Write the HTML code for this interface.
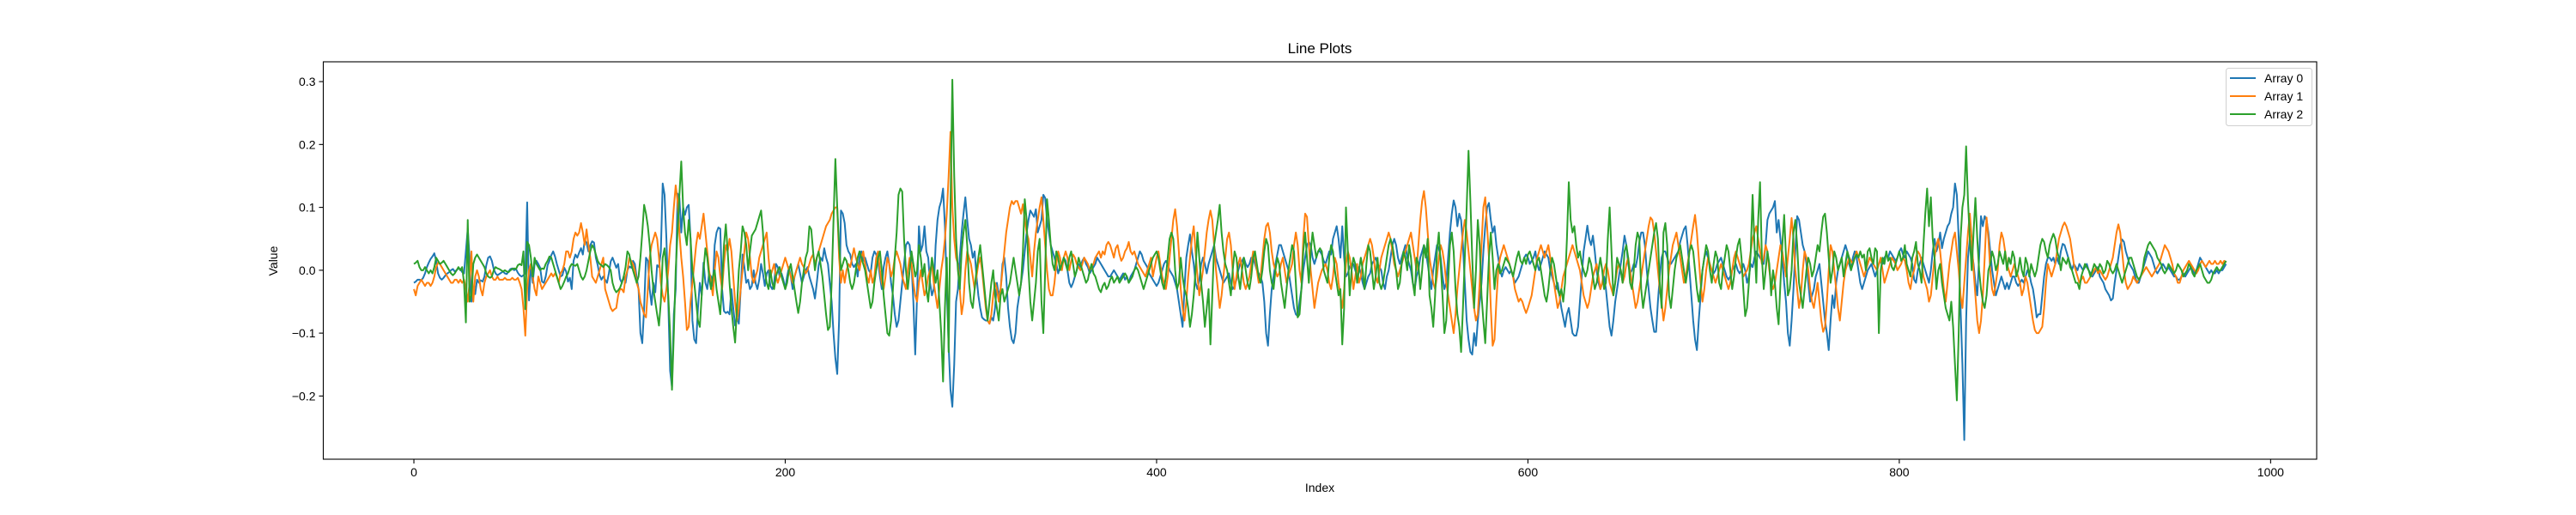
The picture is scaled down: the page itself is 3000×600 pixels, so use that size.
<!DOCTYPE html>
<html><head><meta charset="utf-8"><title>Line Plots</title>
<style>html,body{margin:0;padding:0;background:#fff;}svg{display:block;font-family:"Liberation Sans","DejaVu Sans",sans-serif;}</style>
</head><body>
<svg id="chart" width="3000" height="600" viewBox="0 0 3000 600" xmlns="http://www.w3.org/2000/svg">
<rect x="0" y="0" width="3000" height="600" fill="#fff"/>
<text x="1537" y="62" text-anchor="middle" font-size="17" fill="#000">Line Plots</text>
<g id="plot"></g>
<text x="1537" y="573" text-anchor="middle" font-size="14" fill="#000">Index</text>
<text x="0" y="0" transform="translate(323,304) rotate(-90)" text-anchor="middle" font-size="14" fill="#000">Value</text>
</svg>
<script>
const seriesNames = ["Array 0","Array 1","Array 2"];
const seriesColors = ["#1f77b4","#ff7f0e","#2ca02c"];
const xTicks = [0,200,400,600,800,1000];
const yTicks = [-0.2,-0.1,0.0,0.1,0.2,0.3];
const yTickLabels = ["\u22120.2","\u22120.1","0.0","0.1","0.2","0.3"];
const array0 = [
-.02,-.018,-.015,-.015,-.016,-.012,-.005,.005,.012,.018,.022,.027,.015,-.005,-.012,-.015,-.012,-.008,-.005,-.003,0,.002,-.002,0,.003,
.002,-.003,-.005,.03,.066,.02,-.05,-.035,-.038,-.015,-.02,-.016,-.018,-.01,.008,.02,.022,.015,.002,-.005,-.008,-.006,-.004,-.002,-.005,
-.006,-.002,.002,.003,0,.002,-.004,-.008,-.01,-.008,-.005,.108,-.048,.01,-.02,.01,.015,.01,.004,-.018,-.02,-.01,.008,.015,.024,
.03,.022,.01,0,-.01,-.008,.004,-.002,-.018,-.012,-.03,.015,.025,.02,.028,.035,.025,.048,.044,.03,.04,.046,.044,.02,.008,
-.008,-.015,-.01,-.015,-.02,-.005,.014,.02,.012,.004,.01,-.014,-.02,-.01,-.02,0,.006,.004,.015,.01,-.012,-.03,-.1,-.116,-.06,
.02,.015,-.03,-.055,-.02,-.035,.008,.005,.03,.138,.12,.05,-.05,-.16,-.186,-.07,-.03,.122,.115,.06,.1,.088,.1,.104,.05,
-.08,-.11,-.116,-.06,-.02,-.04,.012,-.02,-.03,-.005,-.01,-.025,.04,.06,.068,.066,-.03,-.065,-.068,-.066,-.07,-.03,-.06,-.088,-.075,
-.085,-.03,.025,.005,-.02,-.015,-.03,-.025,0,-.02,-.03,-.015,.01,-.005,-.025,-.005,0,-.025,-.03,-.02,.01,.005,-.01,-.005,-.015,
-.03,-.01,.005,-.01,-.03,-.01,0,.01,-.005,-.02,-.01,0,.005,-.01,-.02,-.03,-.045,-.02,.008,.02,.015,.035,.02,.01,-.02,
-.05,-.1,-.14,-.165,-.08,.095,.09,.075,.04,.03,.025,.01,.005,.01,-.01,.02,.03,.015,.02,.01,0,-.005,.02,.03,.025,
.015,-.01,-.03,.005,.02,.03,.01,-.02,-.04,-.07,-.09,-.08,-.05,-.02,.01,.04,.045,.04,.01,-.05,-.134,-.04,.07,.03,.04,
.07,.03,.02,-.02,-.04,-.03,.04,.08,.1,.11,.13,.07,-.03,-.12,-.19,-.217,-.15,-.05,-.03,.02,.06,.09,.116,.08,.05,
.04,.02,.03,-.01,-.04,-.06,-.075,-.078,-.08,-.08,-.085,-.075,-.08,-.06,-.02,-.04,-.03,.01,.02,-.01,-.06,-.09,-.11,-.116,-.1,
-.06,-.04,-.02,0,.03,.06,.08,.095,.09,.085,.097,.06,.07,.08,.12,.115,.08,.06,.04,.03,.02,.01,-.005,.005,.01,
.02,.015,0,-.02,-.027,-.02,-.01,0,.01,.005,.015,.02,.01,.005,-.005,0,.005,.01,.02,.015,.01,.005,0,-.005,-.01,
-.01,-.005,0,-.005,-.01,-.015,-.01,-.005,-.015,-.01,-.02,-.01,-.005,0,.01,.02,.03,.025,.015,.01,.005,-.005,-.01,-.015,-.02,
-.025,-.02,-.01,0,.01,.015,.01,0,-.005,-.01,-.02,-.03,-.05,-.07,-.09,-.03,.02,.04,.057,.03,.01,-.02,-.03,-.015,.01,
.02,.01,-.005,.01,.02,.03,.04,.02,.01,0,-.01,-.02,-.015,-.01,-.005,-.02,-.03,-.025,-.015,0,.01,.015,.02,.01,.005,
.01,.02,.02,.01,0,-.005,-.01,-.02,-.05,-.1,-.12,-.07,-.03,-.01,.01,.025,.04,.04,.03,.02,.01,0,-.02,-.04,-.06,
-.07,-.073,-.05,-.03,0,.02,.04,.045,.04,.02,.01,.02,.03,.03,.025,.015,.01,.02,.03,.025,.05,.06,.07,.05,.02,
.07,.02,-.01,-.005,.005,.01,.01,0,-.01,.005,-.005,-.02,-.03,-.02,-.01,-.005,.01,.015,.02,.01,.005,0,-.02,-.03,-.01,
0,.02,.04,.05,.04,.02,.01,.02,.03,.04,.02,.01,0,-.02,-.03,-.01,0,.02,.03,.04,.03,.01,-.01,-.03,0,
.02,.04,.035,.02,-.01,-.03,-.02,.02,.06,.09,.111,.1,.07,.09,.08,.04,-.02,-.08,-.11,-.13,-.134,-.1,-.12,-.08,-.05,
-.02,.03,.07,.1,.107,.08,.06,.07,.04,.02,0,-.01,0,.005,0,-.005,0,-.01,-.02,-.015,-.01,0,.01,.02,.025,
.02,.01,.015,.02,.03,.01,0,.01,.02,.03,.025,.02,0,-.01,-.02,-.03,-.02,-.04,-.06,-.075,-.09,-.07,-.06,-.08,-.1,
-.104,-.104,-.09,-.05,-.01,.03,.05,.071,.05,.04,.055,.03,0,-.02,-.03,-.02,-.01,-.03,-.06,-.09,-.104,-.08,-.05,-.03,-.01,
.01,.03,.055,.04,.01,-.005,0,.01,.005,.02,.045,.06,.06,.04,0,-.03,-.06,-.08,-.098,-.098,-.05,-.01,.02,.03,.03,
.02,.01,.01,.015,.02,.025,.03,.045,.055,.065,.07,.04,0,-.04,-.08,-.11,-.127,-.08,-.04,0,.02,.03,.02,.005,0,
-.005,0,.01,.015,.02,.01,0,-.01,-.015,-.01,0,.005,.01,0,-.005,0,.01,0,-.02,-.01,.01,.005,.02,.03,.025,
.02,.015,.01,.04,.08,.09,.095,.1,.11,.06,.08,.05,.02,-.02,-.05,-.1,-.12,-.08,-.03,.03,.086,.08,.06,.04,.03,
.01,-.02,-.05,-.04,-.03,-.01,0,.01,-.02,-.05,-.08,-.1,-.127,-.08,-.04,-.06,-.02,0,.01,.02,.03,.04,.03,.01,0,
.02,.03,.02,0,-.02,-.03,-.02,-.01,0,.005,.01,0,-.01,0,.01,.015,.01,.02,.025,.02,.03,.025,.02,.015,.02,
.03,.035,.025,.02,.03,.025,.02,.01,-.015,-.02,0,.01,.02,.01,0,-.01,-.02,0,.03,.05,.03,.04,.06,.035,.05,
.06,.07,.075,.09,.1,.138,.12,.05,-.06,-.15,-.27,-.08,.02,.05,.03,.01,-.02,-.04,.02,.086,.07,.086,.08,.06,.03,
0,-.02,-.04,-.03,-.02,-.01,-.02,-.03,-.02,-.03,-.02,-.01,-.01,-.02,-.025,-.02,-.015,-.02,-.01,0,-.005,-.02,-.03,-.05,-.075,
-.07,-.07,-.04,-.01,.01,.02,.02,.015,.02,.01,.02,.01,.03,.042,.04,.03,.02,.01,0,.01,.005,0,.01,.005,0,
.005,.01,0,-.005,-.01,-.005,0,.005,-.01,-.015,-.02,-.03,-.035,-.04,-.048,-.045,-.02,0,.02,.04,.049,.045,.03,.02,.01,
.005,0,-.01,-.02,-.02,-.01,0,.01,.02,.03,.025,.02,.01,0,-.005,0,.005,.01,.005,0,.005,0,-.005,-.01,-.01,
-.015,-.015,-.01,-.005,-.01,-.005,0,.005,0,-.005,0,.01,.02,.015,.01,.005,0,-.005,0,-.005,-.005,0,-.005,0,0,
.005,.01];
const array1 = [
-.03,-.04,-.025,-.02,-.015,-.02,-.025,-.02,-.02,-.025,-.02,-.01,.005,.012,.01,.005,0,-.005,-.01,-.015,-.02,-.02,-.015,-.015,-.02,
-.015,-.02,-.015,-.03,-.05,-.02,.03,-.05,-.01,0,-.01,-.03,-.04,-.02,-.01,-.005,0,-.01,-.015,-.015,-.01,-.015,-.015,-.015,-.012,
-.015,-.015,-.015,-.012,-.015,-.015,-.012,-.02,-.03,-.06,-.104,-.03,0,.01,-.01,-.03,-.04,-.01,-.02,-.03,-.025,-.02,-.015,-.01,-.005,
-.01,-.005,-.01,-.02,-.005,0,.01,.03,.03,.02,.03,.05,.06,.055,.06,.075,.06,.04,.065,.04,.02,-.01,-.015,-.02,-.01,
0,.01,.02,-.03,-.04,-.05,-.06,-.065,-.062,-.06,-.04,-.03,-.03,-.035,-.01,0,.02,.015,.01,0,-.02,-.03,-.05,-.06,-.07,
-.075,-.03,.02,.04,.05,.06,.05,.02,-.02,-.04,-.05,-.03,0,.04,.06,.1,.135,.11,.06,.02,-.01,-.05,-.095,-.09,-.05,
-.02,.01,.04,.06,.05,.07,.09,.06,.03,0,-.02,-.04,0,.03,.02,-.01,-.03,.01,.04,.03,.05,.03,-.01,-.05,-.08,
-.06,-.03,0,.03,.06,.05,.02,-.01,-.02,-.01,0,.02,.03,.04,.05,.06,.02,-.01,0,.01,-.01,-.02,-.01,0,.01,
.02,.01,0,-.01,-.02,-.01,0,.01,.02,.01,.005,-.005,0,.01,.02,.025,.01,.02,.03,.04,.05,.06,.07,.075,.08,
.09,.095,.1,.1,.02,-.02,0,-.02,0,.01,.005,.02,.035,.02,.01,0,.02,.03,.01,-.01,-.02,0,-.02,-.01,.02,
.03,0,-.02,-.03,-.01,.02,.01,-.01,0,.02,.03,.02,.01,-.01,-.02,-.03,0,.02,.01,-.02,-.04,-.05,-.02,0,-.02,
-.04,-.03,-.01,0,.01,-.02,-.04,-.06,-.03,0,.02,.05,.09,.15,.22,.1,.05,.02,.01,-.03,-.07,-.05,0,.03,.02,
.01,-.01,-.03,-.01,.01,.02,0,-.03,-.06,-.08,-.085,-.07,-.04,-.02,-.03,-.05,-.03,0,.03,.06,.08,.1,.11,.105,.11,
.11,.1,.09,.105,.08,.06,.05,.02,-.01,.03,.06,.08,.1,.116,.08,.04,0,-.03,-.04,-.04,-.02,.01,.03,.02,0,
.02,.03,.02,0,.015,.025,.02,.01,.005,0,.01,.02,.015,.01,0,.005,.01,.02,.025,.03,.02,.03,.025,.04,.045,
.04,.03,.02,.035,.04,.025,.015,.02,.03,.035,.045,.03,.025,.03,.02,.01,.005,0,-.005,-.01,0,.01,.02,-.01,.005,
.02,.03,.01,-.01,-.02,-.03,-.01,.02,.05,.08,.097,.07,.03,-.03,-.06,-.08,-.05,-.01,.02,.05,.07,.03,-.01,-.04,-.02,
0,.03,.06,.08,.095,.08,.04,0,-.03,-.06,-.04,-.01,.02,.05,.06,.04,0,-.03,-.01,.01,.02,0,-.02,-.03,-.02,
-.01,.01,.03,.02,0,-.02,-.01,.02,.05,.07,.075,.06,.03,.01,0,-.01,-.005,.01,.02,0,-.02,-.01,0,.01,.04,
.06,.04,0,-.02,.05,.09,.085,.04,0,-.03,-.06,-.04,-.02,-.01,0,.005,.01,0,-.02,-.03,-.01,.02,.01,-.02,-.04,
-.06,-.03,.01,.03,.02,0,-.03,-.01,.01,-.02,-.01,.01,.02,.03,.04,.05,.04,.02,-.01,-.02,0,.02,.03,.04,.05,
.06,.05,.03,.01,0,-.01,0,.01,.02,.03,.04,.05,.06,.04,.02,0,.04,.08,.11,.126,.1,.06,.02,0,-.02,
-.03,-.01,.02,.04,.03,.01,-.02,-.04,-.06,-.08,-.1,-.07,-.03,0,.03,.06,.08,.06,.03,0,-.03,-.06,-.08,-.07,-.02,
.04,.1,.116,.07,.02,-.06,-.12,-.11,-.05,0,.02,.03,.04,.03,.02,.01,0,-.01,-.03,-.04,-.05,-.045,-.05,-.06,-.068,
-.06,-.05,-.04,-.02,0,.02,.03,.04,.03,.02,.03,.04,.02,0,-.02,-.04,-.06,-.05,-.03,-.01,0,.01,.02,.03,.04,
.03,.02,.01,0,-.02,-.04,-.05,-.06,-.05,-.03,-.01,0,.01,-.01,-.03,-.02,0,.01,0,-.02,-.03,-.04,-.02,0,.01,
0,-.02,-.01,.01,.02,0,-.02,-.04,-.06,-.05,-.03,-.01,.01,.03,.05,.07,.084,.08,.06,.03,0,-.03,-.05,-.08,-.06,
-.03,0,.02,.04,.05,.06,.04,.02,0,-.02,-.01,.01,.03,.05,.07,.088,.06,.02,-.02,-.05,-.03,0,.02,.01,0,
-.01,-.02,-.01,0,.01,0,-.01,-.02,-.03,-.02,0,.02,.03,.02,.01,0,-.01,-.005,0,.01,.03,.05,.06,.07,.05,
.03,.01,.02,.04,.03,0,-.02,-.03,-.02,0,.02,.04,.03,.01,-.01,.02,.05,.083,.05,0,-.03,-.06,-.04,0,.03,
.02,0,-.03,-.05,-.06,-.04,-.02,-.05,-.08,-.098,-.09,-.05,0,.04,.03,0,-.03,-.06,-.08,-.05,-.02,0,.01,.02,.015,
.01,.02,.03,.02,.01,0,-.01,0,.01,.02,.015,.01,.005,0,.01,.02,0,-.02,-.01,0,.01,.02,.015,.01,0,
.005,.01,.02,.015,0,-.02,-.03,-.01,0,.02,.03,.025,.015,-.01,-.02,-.03,-.05,-.04,-.01,.02,.04,.05,.03,0,-.03,
-.05,-.02,.01,.03,.05,.06,.03,0,-.04,-.06,-.02,.02,.06,.09,.05,0,-.04,-.08,-.1,-.08,-.04,.02,.084,.05,0,
-.03,-.04,-.02,0,.04,.06,.05,.03,.01,0,-.01,0,.01,0,-.01,-.02,-.04,-.03,-.01,-.02,-.04,-.06,-.08,-.095,-.1,
-.1,-.095,-.09,-.06,-.02,.01,0,-.01,0,.01,.03,.05,.06,.07,.076,.07,.06,.05,.03,.01,0,-.01,-.02,-.015,-.01,
-.02,-.02,-.015,-.01,-.005,0,.005,-.005,0,-.005,-.01,-.015,-.01,0,.01,.02,.04,.06,.073,.06,.03,0,-.02,-.03,-.025,
-.02,-.01,-.015,-.02,-.015,-.01,-.005,0,.005,0,-.005,-.01,-.005,0,.005,.01,.02,.03,.04,.035,.03,.02,.01,-.005,-.01,
-.02,-.02,-.01,0,.005,.01,.015,.01,.005,0,-.005,0,.01,.015,.01,.005,.01,.015,.01,.01,.015,.01,.01,.015,.01,
.015,.012];
const array2 = [
.01,.012,.015,.005,0,0,.005,0,-.005,0,-.005,.005,.02,.015,.01,.012,.015,.01,.005,0,-.005,-.008,-.005,0,.005,
0,.005,-.02,-.083,.08,-.05,-.04,.01,.02,.025,.02,.015,.01,.005,-.005,-.01,-.012,-.01,0,.005,.003,.002,0,-.002,0,
-.002,-.003,0,.002,.003,.002,.008,.01,.008,.03,-.062,.045,.04,.02,-.01,.02,.01,.005,0,.003,.002,.01,.015,.022,.02,
.01,0,-.01,-.02,-.03,-.025,-.018,-.01,-.005,.005,.01,.008,.007,.01,0,-.01,-.015,-.01,0,.015,.03,.04,.035,.025,.015,
.01,.008,.005,.01,.008,.005,0,-.02,-.03,-.035,-.032,-.028,-.02,-.01,.005,.03,.025,.01,0,-.01,-.02,-.01,.02,.06,.104,
.09,.07,.04,0,-.03,-.05,-.07,-.088,-.05,.02,.035,0,-.04,-.1,-.19,-.1,0,.06,.12,.173,.1,.06,.04,.08,.05,
0,-.02,-.05,-.08,-.09,-.04,0,.035,.02,-.01,-.03,-.01,0,-.03,-.05,-.07,-.02,.04,.073,.03,-.02,-.06,-.09,-.115,-.06,
0,.03,.07,.06,.04,0,.03,.055,.06,.065,.075,.085,.095,.06,0,-.02,-.03,0,-.02,-.03,-.01,0,.005,-.01,-.02,
-.03,-.02,0,.01,-.01,-.03,-.05,-.068,-.05,-.02,0,.02,.03,.07,.065,.03,0,.02,.03,.01,-.01,-.04,-.07,-.095,-.09,
-.02,.08,.177,.1,.04,0,.01,.02,.015,0,-.02,-.03,-.02,0,.02,.03,.02,.01,0,-.02,-.04,-.06,-.05,-.02,0,
.02,.03,0,-.04,-.07,-.1,-.104,-.08,-.03,.02,.06,.12,.13,.125,.05,0,-.03,0,.03,.01,-.01,0,.04,.02,-.01,
.01,-.03,-.05,-.01,.02,0,-.02,0,-.05,-.1,-.177,-.06,.02,-.13,.1,.303,.15,.05,0,-.03,.03,.06,.08,.04,-.02,
-.05,-.06,-.03,0,.02,.04,.01,-.02,-.05,-.08,-.05,-.02,0,-.04,-.06,-.08,-.04,-.03,-.05,-.04,-.03,-.02,0,.02,0,
-.02,-.04,-.02,.03,.113,.08,0,-.05,-.08,-.05,-.02,.03,.05,-.05,-.1,0,.113,.08,.04,.01,0,.03,.02,0,.01,
.02,.01,0,.02,.03,.01,-.01,0,.02,.01,0,-.01,-.02,-.015,0,.01,-.005,-.01,-.02,-.03,-.035,-.025,-.02,-.03,-.025,
-.015,-.01,-.02,-.015,-.01,-.02,-.015,-.01,-.005,-.01,-.02,-.015,-.01,0,.005,0,-.01,-.02,-.03,-.02,-.01,0,.01,.02,.025,
.03,.02,0,-.02,-.03,-.01,.02,.05,.06,.05,0,-.03,-.02,.02,-.01,-.03,-.04,-.06,-.09,-.07,-.04,0,.06,.02,-.02,
-.05,-.09,-.06,-.03,-.118,-.04,.04,.06,.08,.104,.06,.03,.01,0,-.02,-.04,0,.03,.02,-.01,-.03,0,.02,0,-.02,
-.03,-.01,.02,.03,.01,-.01,-.02,0,.03,.05,.04,0,-.02,-.03,0,.02,.01,-.02,-.04,-.06,-.03,0,.02,.04,.03,
-.02,-.075,-.07,-.03,.03,.06,.02,-.02,.03,.06,.04,.02,.03,.035,.03,0,-.01,-.02,.02,.04,.03,0,-.02,-.04,-.03,
-.118,-.06,.1,.03,-.04,0,.02,.01,-.02,0,.02,0,-.03,.01,.04,.03,0,-.03,-.01,.02,-.02,-.03,-.02,0,.02,
.04,.05,.04,.02,0,-.03,-.02,.01,.03,.02,0,.04,.02,-.02,-.04,.02,.01,-.03,0,.04,.02,.05,-.04,-.06,-.09,
-.04,.03,.06,.01,-.04,-.1,-.08,-.02,.04,.06,.03,-.03,-.07,-.09,-.13,-.06,.02,.1,.19,.11,.02,-.06,0,.08,.04,
-.04,-.08,-.116,-.05,.02,.06,.02,-.03,0,.01,-.005,0,.01,.02,.015,.01,0,-.01,.005,.02,.03,.015,.01,.02,.01,
.025,.03,.02,.01,0,.015,.02,0,-.02,-.04,-.05,-.03,0,.02,.01,-.01,-.03,-.04,-.03,-.05,-.02,.05,.14,.08,.06,
.07,.04,.02,.03,.01,0,-.01,0,.02,.01,-.01,-.03,-.02,0,.02,0,-.03,-.02,.05,.1,.03,-.04,-.02,.02,.01,
0,-.02,.03,.04,.02,-.02,-.03,0,.04,.06,.05,-.03,-.06,-.04,-.02,0,.02,.04,.06,.075,.05,-.02,-.06,.06,.075,
.04,-.04,-.06,-.03,0,.02,.03,.04,.02,0,-.02,0,.03,.04,.03,0,-.03,-.05,-.03,0,.02,.04,.03,0,-.02,
.01,.03,.02,-.02,-.03,0,.02,.04,.03,0,-.03,-.01,.02,.04,.05,.02,-.03,-.073,-.06,-.02,.03,.12,.04,-.02,.08,
.14,.02,-.03,0,.03,.01,-.04,0,-.02,-.06,-.086,-.02,.04,.088,.02,-.04,-.03,0,.06,.08,.04,-.02,-.04,-.06,-.03,
0,.02,.01,-.01,0,.02,.04,.03,.06,.085,.09,.06,.02,-.02,0,.03,.02,0,.01,.02,-.01,.01,.03,.02,0,
.01,.02,.025,.02,.03,.02,.025,0,.03,.035,.02,.01,.035,.03,-.1,0,.02,.01,.03,.015,.02,.005,0,.01,.02,
.03,.015,.02,.04,.01,0,-.01,.02,.03,.045,.01,0,-.02,.04,.09,.13,.07,.116,.05,.02,-.03,0,.01,-.02,-.04,
-.06,-.07,-.08,-.05,-.09,-.15,-.207,-.1,.05,.1,.12,.197,.11,.05,0,.06,.115,.05,0,-.03,-.05,-.06,-.04,0,.01,
.03,.02,0,.01,.03,.02,.01,.03,0,.02,.01,.03,.02,-.01,0,.02,0,-.01,.02,.01,-.01,.01,0,-.01,0,
.02,.04,.05,.045,.03,.02,.04,.05,.058,.05,.03,.02,0,.02,.015,.01,.02,.005,0,-.01,-.02,-.02,-.03,-.01,0,
.01,.005,0,-.01,0,.01,.005,0,.01,.005,-.005,0,.015,.01,0,-.005,0,.01,0,-.01,-.02,-.01,0,.01,.02,
.02,.01,0,-.01,-.015,-.01,0,.02,.03,.04,.045,.04,.035,.03,.02,.015,.01,0,-.005,0,.01,.005,0,-.005,0,
.01,.005,0,-.01,-.005,0,.01,.005,-.005,-.01,0,.005,.01,0,-.01,-.015,-.02,-.02,-.015,-.005,0,.005,0,0,.005,
.01,.015];
const allSeries = [array0, array1, array2];

const NS = "http://www.w3.org/2000/svg";
const L = 376.5, R = 2698, T = 72, B = 535;
const xMin = -48.8, xMax = 1024.8, yMin = -0.3005, yMax = 0.3315;
function xScale(v){ return L + (v - xMin) / (xMax - xMin) * (R - L); }
function yScale(v){ return B - (v - yMin) / (yMax - yMin) * (B - T); }
function mk(tag, attrs){ const e = document.createElementNS(NS, tag); for (const k in attrs) e.setAttribute(k, attrs[k]); return e; }
const plot = document.getElementById('plot');

allSeries.forEach((arr, si) => {
  let d = '';
  arr.forEach((v, i) => { d += (i ? 'L' : 'M') + xScale(i).toFixed(2) + ',' + yScale(v).toFixed(2); });
  const p = mk('path', {d: d, fill: 'none', stroke: seriesColors[si], 'stroke-width': 2, 'stroke-linejoin': 'round'});
  
  
  plot.appendChild(p);
});

const frame = mk('rect', {x: L, y: T, width: R - L, height: B - T, fill: 'none', stroke: '#000', 'stroke-width': 1.1});


plot.appendChild(frame);

xTicks.forEach(t => {
  const x = xScale(t);
  const tk = mk('line', {x1: x, y1: B, x2: x, y2: B + 5, stroke: '#000', 'stroke-width': 1.1});
  
  
  plot.appendChild(tk);
  const tx = mk('text', {x: x, y: B + 20, 'text-anchor': 'middle', 'font-size': 14, fill: '#000'});
  tx.textContent = String(t);
  
  
  plot.appendChild(tx);
});

yTicks.forEach((t, i) => {
  const y = yScale(t);
  const tk = mk('line', {x1: L - 5, y1: y, x2: L, y2: y, stroke: '#000', 'stroke-width': 1.1});
  
  
  plot.appendChild(tk);
  const tx = mk('text', {x: L - 9, y: y + 5, 'text-anchor': 'end', 'font-size': 14, fill: '#000'});
  tx.textContent = yTickLabels[i];
  
  
  plot.appendChild(tx);
});

const lg = mk('g', {});


plot.appendChild(lg);
const box = mk('rect', {x: 2592.5, y: 79.5, width: 100, height: 67, rx: 3, fill: '#fff', 'fill-opacity': 0.8, stroke: '#d0d0d0', 'stroke-width': 1});


lg.appendChild(box);
seriesNames.forEach((n, i) => {
  const y = 91 + i * 21;
  const ln = mk('line', {x1: 2597, y1: y, x2: 2627, y2: y, stroke: seriesColors[i], 'stroke-width': 2.1});
  
  
  lg.appendChild(ln);
  const tx = mk('text', {x: 2637, y: y + 5, 'font-size': 14, fill: '#000'});
  tx.textContent = n;
  
  
  lg.appendChild(tx);
});
</script>
</body></html>
